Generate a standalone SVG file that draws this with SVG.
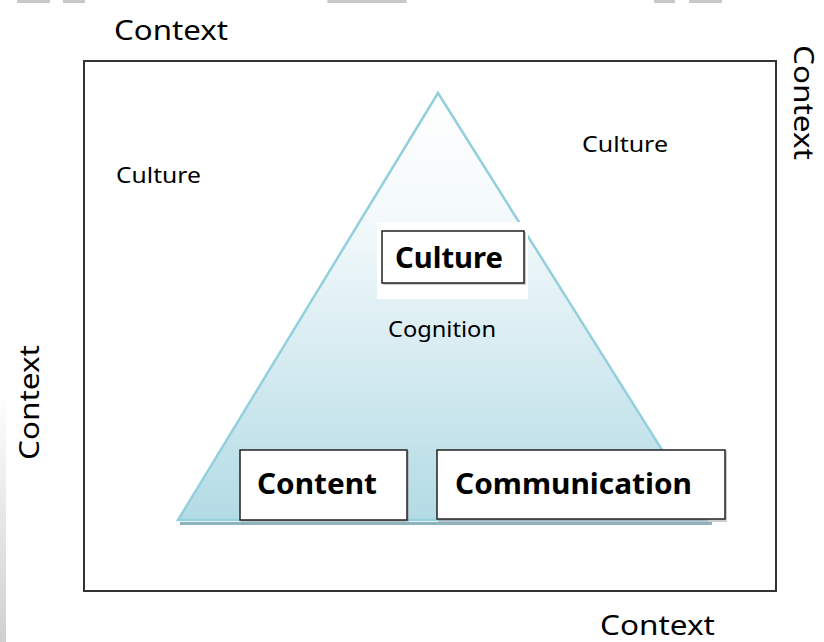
<svg xmlns="http://www.w3.org/2000/svg" width="824" height="642" viewBox="0 0 824 642">
<defs>
<linearGradient id="tri" x1="0" y1="0" x2="0" y2="1">
<stop offset="0" stop-color="#ffffff"/>
<stop offset="0.3" stop-color="#f3f9fb"/>
<stop offset="1" stop-color="#b3dbe5"/>
</linearGradient>
<linearGradient id="edge" x1="0" y1="0" x2="0" y2="1">
<stop offset="0" stop-color="#d0d0d0" stop-opacity="0"/>
<stop offset="1" stop-color="#d0d0d0" stop-opacity="1"/>
</linearGradient>
<style>
.lbl{font-family:"Noto Sans","Open Sans",sans-serif;fill:#000}
.ctx{font-size:28px}
.cul{font-size:22px}
.big{font-size:29px;font-weight:bold}
.box{fill:#fff;stroke:#222;stroke-width:1.5}
.shadow{fill:#9a9a9a;opacity:0.5}
</style>
</defs>
<rect width="824" height="642" fill="#fff"/>
<g id="edges-deco" fill="#c8c8c8">
<rect x="17" y="0" width="33" height="3"/>
<rect x="63" y="0" width="22" height="3"/>
<rect x="327" y="0" width="80" height="3" rx="1.5"/>
<rect x="654" y="0" width="21" height="3"/>
<rect x="689" y="0" width="33" height="3"/>
<rect x="0" y="390" width="6" height="252" fill="url(#edge)"/>
</g>
<g id="frame">
<rect x="84" y="61" width="692" height="530" fill="none" stroke="#333" stroke-width="2"/>
</g>
<g id="triangle">
<polygon points="180,522 712,522 712,525 180,525" fill="#8fb3bd"/>
<polygon points="438,93 706,520 178,520" fill="url(#tri)" stroke="#93cfdd" stroke-width="2.5" stroke-linejoin="miter"/>
</g>
<g id="labels">
<text class="lbl ctx" x="114" y="40" textLength="114" lengthAdjust="spacingAndGlyphs">Context</text>
<text class="lbl ctx" transform="translate(794,45) rotate(90)" textLength="115" lengthAdjust="spacingAndGlyphs">Context</text>
<text class="lbl ctx" transform="translate(39,460) rotate(-90)" textLength="115" lengthAdjust="spacingAndGlyphs">Context</text>
<text class="lbl ctx" x="600" y="635" textLength="115" lengthAdjust="spacingAndGlyphs">Context</text>
<text class="lbl cul" x="116" y="183" textLength="85" lengthAdjust="spacingAndGlyphs">Culture</text>
<text class="lbl cul" x="582" y="152" textLength="86" lengthAdjust="spacingAndGlyphs">Culture</text>
<text class="lbl cul" x="388" y="337" textLength="108" lengthAdjust="spacingAndGlyphs">Cognition</text>
</g>
<g id="node-culture">
<rect x="377" y="222" width="151" height="77" fill="#fff"/>
<rect x="383" y="232" width="143" height="53" class="shadow"/>
<rect x="382" y="231" width="142" height="52" class="box"/>
<text class="lbl big" x="395" y="268" textLength="108" lengthAdjust="spacingAndGlyphs">Culture</text>
</g>
<g id="node-content">
<rect x="241" y="451" width="168" height="71" class="shadow"/>
<rect x="240" y="450" width="167" height="70" class="box"/>
<text class="lbl big" x="257" y="494" textLength="120" lengthAdjust="spacingAndGlyphs">Content</text>
</g>
<g id="node-communication">
<rect x="438" y="451" width="289" height="71" class="shadow"/>
<rect x="437" y="450" width="288" height="69" class="box"/>
<text class="lbl big" x="455" y="494" textLength="237" lengthAdjust="spacingAndGlyphs">Communication</text>
</g>
<g id="connectors"/>
</svg>
